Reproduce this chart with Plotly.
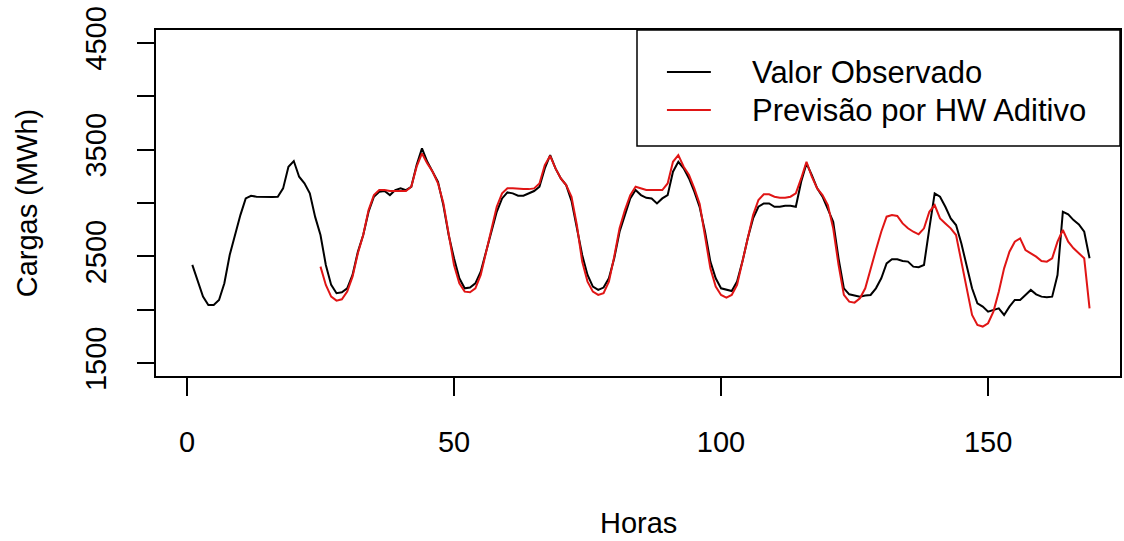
import plotly.graph_objects as go

# ---- data ----
horas_obs = list(range(1, 170))
valor_observado = [
    2420, 2264, 2123, 2045, 2045, 2092, 2248, 2513, 2700, 2887,
    3043, 3068, 3059, 3056, 3056, 3056, 3059, 3137, 3340, 3393,
    3246, 3184, 3090, 2870, 2700, 2420, 2233, 2155, 2164, 2201,
    2326, 2544, 2700, 2918, 3059, 3106, 3112, 3074, 3121, 3137,
    3121, 3152, 3355, 3511, 3386, 3293, 3199, 2980, 2700, 2482,
    2295, 2201, 2208, 2248, 2357, 2544, 2731, 2918, 3043, 3099,
    3090, 3068, 3068, 3090, 3112, 3152, 3324, 3449, 3324, 3230,
    3168, 3020, 2763, 2513, 2326, 2217, 2186, 2208, 2295, 2482,
    2731, 2887, 3043, 3121, 3074, 3049, 3043, 2996, 3043, 3074,
    3293, 3386, 3324, 3230, 3106, 2960, 2731, 2451, 2295, 2201,
    2186, 2176, 2264, 2451, 2669, 2856, 2965, 2996, 2996, 2965,
    2965, 2975, 2975, 2965, 3199, 3371, 3262, 3137, 3059, 2950,
    2825, 2482, 2201, 2145, 2133, 2123, 2133, 2139, 2201, 2295,
    2435, 2473, 2473, 2457, 2451, 2404, 2398, 2420, 2763, 3090,
    3059, 2965, 2856, 2794, 2620, 2400, 2201, 2061, 2030, 1983,
    1998, 2014, 1952, 2030, 2092, 2092, 2139, 2186, 2145, 2123,
    2117, 2123, 2326, 2918, 2893, 2840, 2800, 2731, 2482,
]
horas_prev = list(range(25, 170))
previsao_hw = [
    2404, 2233, 2123, 2086, 2098, 2170, 2310, 2530, 2700, 2934,
    3074, 3121, 3121, 3112, 3112, 3112, 3112, 3152, 3340, 3464,
    3371, 3293, 3184, 3000, 2700, 2420, 2248, 2170, 2164, 2201,
    2326, 2544, 2763, 2965, 3090, 3137, 3137, 3130, 3130, 3130,
    3137, 3183, 3355, 3442, 3324, 3230, 3168, 3059, 2794, 2451,
    2264, 2170, 2139, 2155, 2264, 2498, 2763, 2934, 3074, 3152,
    3137, 3121, 3121, 3121, 3121, 3183, 3386, 3449, 3340, 3262,
    3137, 2990, 2700, 2388, 2217, 2139, 2114, 2139, 2233, 2451,
    2700, 2887, 3028, 3081, 3081, 3059, 3049, 3049, 3059, 3090,
    3230, 3386, 3246, 3137, 3074, 2981, 2763, 2420, 2139, 2076,
    2067, 2108, 2201, 2388, 2560, 2731, 2872, 2887, 2878, 2809,
    2763, 2731, 2707, 2763, 2918, 2981, 2856, 2809, 2763, 2700,
    2451, 2170, 1952, 1858, 1843, 1874, 1983, 2170, 2388, 2544,
    2638, 2669, 2560, 2529, 2498, 2457, 2451, 2482, 2638, 2747,
    2638, 2576, 2529, 2482, 2014,
]
x_ticks = [0, 50, 100, 150]
y_ticks = [1500, 2000, 2500, 3000, 3500, 4000, 4500]
y_ticktext = ["1500", "", "2500", "", "3500", "", "4500"]
legend_labels = ["Valor Observado", "Previsão por HW Aditivo"]

BLACK = "#000000"
RED = "#e01515"
FONT = "Liberation Sans, Arial, sans-serif"
FS = 29
FS_LEG = 31

W, H = 1124, 541
L, R, T, B = 156, 2, 30, 165
pw, ph = W - L - R, H - T - B


def px(xp):
    return (xp - L) / pw


def py(yp):
    return (H - B - yp) / ph


fig = go.Figure()
fig.add_trace(go.Scatter(x=horas_obs, y=valor_observado, mode="lines",
                         line=dict(color=BLACK, width=2), name=legend_labels[0],
                         showlegend=False))
fig.add_trace(go.Scatter(x=horas_prev, y=previsao_hw, mode="lines",
                         line=dict(color=RED, width=2), name=legend_labels[1],
                         showlegend=False))

# legend box drawn like R's legend("topright")
shapes = [
    dict(type="rect", xref="paper", yref="paper", x0=px(638), x1=1, y0=py(146), y1=1,
         line=dict(color=BLACK, width=1.5), fillcolor="white", layer="above"),
    dict(type="line", xref="paper", yref="paper", x0=px(668), x1=px(712), y0=py(72), y1=py(72),
         line=dict(color=BLACK, width=2.2), layer="above"),
    dict(type="line", xref="paper", yref="paper", x0=px(668), x1=px(712), y0=py(110), y1=py(110),
         line=dict(color=RED, width=2.2), layer="above"),
]
annotations = [
    dict(text=legend_labels[0], xref="paper", yref="paper", x=px(751), y=py(72),
         xanchor="left", yanchor="middle", showarrow=False,
         font=dict(family=FONT, size=FS_LEG, color=BLACK)),
    dict(text=legend_labels[1], xref="paper", yref="paper", x=px(751), y=py(110),
         xanchor="left", yanchor="middle", showarrow=False,
         font=dict(family=FONT, size=FS_LEG, color=BLACK)),
    dict(text="Horas", xref="paper", yref="paper", x=0.5, y=py(523),
         xanchor="center", yanchor="middle", showarrow=False,
         font=dict(family=FONT, size=FS, color=BLACK)),
    dict(text="Cargas (MWh)", xref="paper", yref="paper", x=px(27), y=0.5, textangle=-90,
         xanchor="center", yanchor="middle", showarrow=False,
         font=dict(family=FONT, size=FS, color=BLACK)),
]

fig.update_layout(
    width=W, height=H,
    margin=dict(l=L, r=R, t=T, b=B, pad=0),
    paper_bgcolor="white", plot_bgcolor="white",
    font=dict(family=FONT, size=FS, color=BLACK),
    shapes=shapes, annotations=annotations,
    showlegend=False,
)
fig.update_xaxes(
    range=[-5.8, 174.7], tickvals=x_ticks, ticktext=[str(v) for v in x_ticks],
    showgrid=False, zeroline=False, showline=True, mirror=True,
    linecolor=BLACK, linewidth=1.5, ticks="outside", ticklen=18, tickwidth=1.5,
    tickcolor=BLACK, ticklabelstandoff=21,
)
fig.update_yaxes(
    range=[1380, 4620], tickvals=y_ticks, ticktext=y_ticktext, tickangle=-90,
    showgrid=False, zeroline=False, showline=True, mirror=True,
    linecolor=BLACK, linewidth=1.5, ticks="outside", ticklen=17, tickwidth=1.5,
    tickcolor=BLACK, ticklabelstandoff=20,
)

fig.write_html("out.html")
